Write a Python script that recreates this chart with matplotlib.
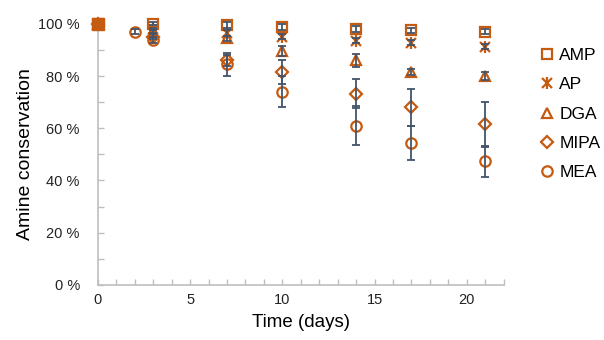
import matplotlib.pyplot as plt
from matplotlib.ticker import MultipleLocator, FuncFormatter

plt.rcParams['font.family'] = ['Liberation Sans', 'DejaVu Sans']

# time points (days)
days = [0, 3, 7, 10, 14, 17, 21]
days_mea = [0, 2, 3, 7, 10, 14, 17, 21]

amp = [100, 100, 99.5, 98.8, 98, 97.5, 97]
amp_err = [0, 0.5, 1, 1, 1, 1, 1]
ap = [100, 98, 96.5, 95, 93.5, 92.7, 91.2]
ap_err = [0, 0.5, 1, 1, 1, 1, 1]
dga = [100, 97, 94.5, 89.5, 86, 81.5, 80]
dga_err = [0, 0.5, 1, 2, 2.5, 1, 1.5]
mipa = [100, 95, 86, 81.6, 73.3, 68, 61.5]
mipa_err = [0, 1, 2, 4.5, 5.5, 7, 8.5]
mea = [100, 97, 93.8, 84.5, 74, 61, 54.5, 47.3]
mea_err = [0, 1, 1, 4.5, 6, 7.5, 6.5, 6]

orange = '#C55A11'
err_col = '#44546A'
axis_col = '#BFBFBF'

fig = plt.figure(figsize=(6.04, 3.4), dpi=100)
ax = fig.add_axes([0.162, 0.162, 0.672, 0.768])

series = [
    ("AMP", days, amp, amp_err, "s", 7),
    ("AP", days, ap, ap_err, "x", 7),
    ("DGA", days, dga, dga_err, "^", 7),
    ("MIPA", days, mipa, mipa_err, "D", 6),
    ("MEA", days_mea, mea, mea_err, "o", 7.5),
]

handles = []
for name, x, y, e, m, ms in series:
    ax.errorbar(x, y, yerr=e, fmt="none", ecolor=err_col, elinewidth=1.3,
                capsize=3, capthick=1.3, zorder=3, clip_on=False)
    style = dict(linestyle="none", markerfacecolor="none", markeredgecolor=orange,
                 markeredgewidth=1.6, zorder=2, clip_on=False)
    h, = ax.plot(x, y, marker=m, markersize=ms, label=name, **style)
    if m == "x":
        # asterisk: add the vertical stroke
        hv, = ax.plot(x, y, marker="|", markersize=ms + 1, **style)
        h = (h, hv)
    handles.append(h)

# overlapping start points look like one solid square
ax.plot(days[0], amp[0], marker="s", markersize=9, color=orange,
        linestyle="none", zorder=4, clip_on=False)

ax.set_xlim(0, 22)
ax.set_ylim(0, 100)
ax.xaxis.set_major_locator(MultipleLocator(5))
ax.xaxis.set_minor_locator(MultipleLocator(1))
ax.yaxis.set_major_locator(MultipleLocator(20))
ax.yaxis.set_minor_locator(MultipleLocator(10))
ax.yaxis.set_major_formatter(FuncFormatter(lambda v, p: f"{v:.0f} %"))

for side in ("top", "right"):
    ax.spines[side].set_visible(False)
for side in ("left", "bottom"):
    ax.spines[side].set_color(axis_col)
    ax.spines[side].set_linewidth(1.2)

ax.tick_params(which="both", direction="in", length=4, width=1, color=axis_col,
               labelsize=10.5, labelcolor="#222222")
ax.tick_params(axis="x", pad=6)
ax.tick_params(axis="y", pad=13)

ax.set_xlabel("Time (days)", fontsize=13.5, labelpad=5)
ax.set_ylabel("Amine conservation", fontsize=14, labelpad=3)

labels = [s[0] for s in series]
fig.legend(handles=handles, labels=labels, loc="upper left",
           bbox_to_anchor=(0.88, 0.885), frameon=False, fontsize=12.5,
           handlelength=0.8, handletextpad=0.3, labelspacing=0.82, borderpad=0)

fig.savefig("out.png", dpi=100)
